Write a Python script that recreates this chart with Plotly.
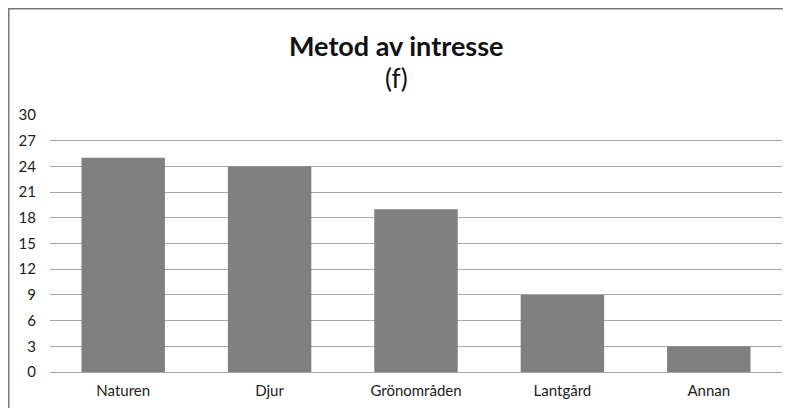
import plotly.graph_objects as go

categories = ["Naturen", "Djur", "Grönområden", "Lantgård", "Annan"]
values = [25, 24, 19, 9, 3]
y_ticks = [0, 3, 6, 9, 12, 15, 18, 21, 24, 27, 30]

# The page body adds an 8px offset; the figure is laid out in that shifted frame.
OFF = 8
W, H = 791 - OFF, 408 - OFF
L, R, T, B = 50 - OFF, 9, 115 - OFF, 36
pw, ph = W - L - R, H - T - B

fig = go.Figure(go.Bar(x=categories, y=values, marker=dict(color="#808080", line=dict(width=0))))

fig.update_layout(
    width=W, height=H,
    margin=dict(l=L, r=R, t=T, b=B, autoexpand=False),
    paper_bgcolor="white", plot_bgcolor="white",
    bargap=0.43,
    showlegend=False,
    font=dict(family="Lato, Open Sans, sans-serif", color="#222222"),
    xaxis=dict(showgrid=False, showline=True, linecolor="#a6a6a6", linewidth=1,
               ticks="", tickfont=dict(size=15), ticklabelstandoff=5, automargin=False),
    yaxis=dict(range=[0, 30], tickvals=y_ticks, showgrid=True, gridcolor="#a6a6a6",
               gridwidth=1, zeroline=False, showline=False, ticks="",
               tickfont=dict(size=15), ticklabelstandoff=13, automargin=False),
)

cx = (396 - 50) / pw
fig.add_annotation(text="<b>Metod av intresse</b>", xref="paper", yref="paper",
                   x=cx, y=1 + (115 - 45) / ph, xanchor="center", yanchor="middle",
                   showarrow=False, font=dict(size=27, color="#111111"))
fig.add_annotation(text="(f)", xref="paper", yref="paper",
                   x=cx, y=1 + (115 - 78) / ph, xanchor="center", yanchor="middle",
                   showarrow=False, font=dict(size=26, color="#111111"))

fig.add_shape(type="rect", xref="paper", yref="paper",
              x0=(0.75 - L) / pw, x1=(W + 10 - L) / pw,
              y0=-(H + 5 - T - ph) / ph, y1=1 + (T - 0.75) / ph,
              line=dict(color="#7a7a7a", width=1.5), fillcolor="rgba(0,0,0,0)", layer="below")

fig.write_html("out.html")
